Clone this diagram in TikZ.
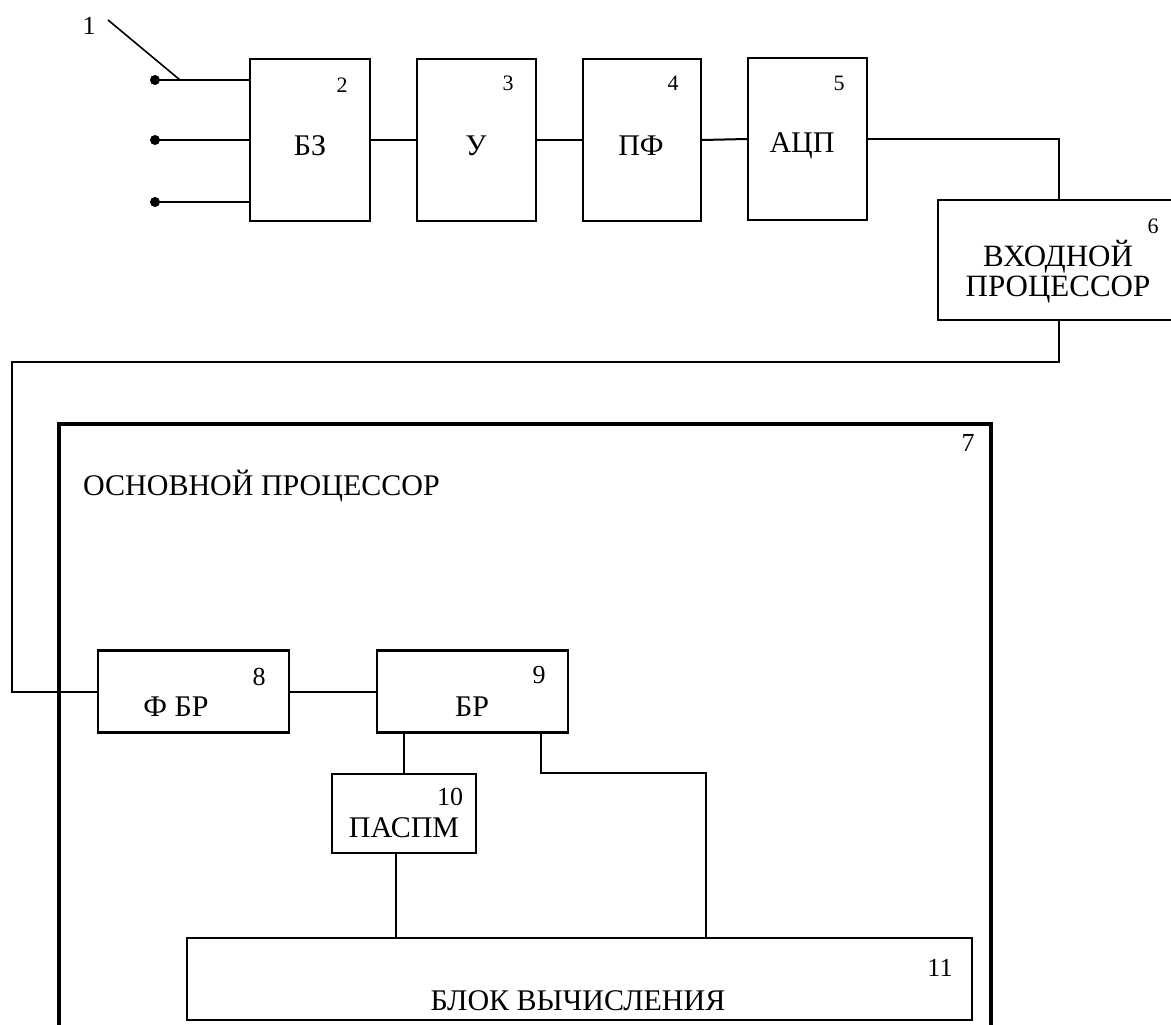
\documentclass[tikz,border=0pt]{standalone}
\usepackage{fontspec}
\setmainfont{Liberation Serif}
\begin{document}
\begin{tikzpicture}[x=1pt,y=-1pt,
  blk/.style={draw,line width=2.4pt,inner sep=0pt,fill=none},
  big/.style={draw,line width=3.6pt,inner sep=0pt},
  wire/.style={line width=2pt},
  lab/.style={inner sep=0pt,font=\fontsize{30}{32}\selectfont},
  num/.style={inner sep=0pt,font=\fontsize{22}{24}\selectfont},
  numb/.style={inner sep=0pt,font=\fontsize{26}{28}\selectfont},
  dotn/.style={circle,fill=black,inner sep=0pt,minimum size=10pt}]
\useasboundingbox (0,0) rectangle (1171,1025);

% top chain
\node[blk,minimum width=120pt,minimum height=162pt] (b2) at (310,140) {};
\node[blk,minimum width=119pt,minimum height=162pt] (b3) at (476.5,140) {};
\node[blk,minimum width=118pt,minimum height=162pt] (b4) at (642,140) {};
\node[blk,minimum width=119pt,minimum height=162pt] (b5) at (807.5,139) {};
\node[lab] (t2) at (310,146) {БЗ};
\node[lab] (t3) at (476,146) {У};
\node[lab] (t4) at (641,146) {ПФ};
\node[lab] (t5) at (802,146) {АЦП};
\node[num] (n2) at (342,85) {2};
\node[num] (n3) at (508,83) {3};
\node[num] (n4) at (673,83) {4};
\node[num] (n5) at (839,83) {5};

% inputs
\node[dotn] (i1) at (155,80) {};
\node[dotn] (i2) at (155,140) {};
\node[dotn] (i3) at (155,202) {};
\draw[wire] (i1.center) -- (i1 -| b2.west);
\draw[wire] (i2.center) -- (i2 -| b2.west);
\draw[wire] (i3.center) -- (i3 -| b2.west);
\node[numb] (n1) at (89,26) {1};
\coordinate (l1) at (108,20);
\coordinate (l2) at (180,80);
\draw[line width=1.6pt] (l1) -- (l2);

\draw[wire] (b2.east) -- (b3.west);
\draw[wire] (b3.east) -- (b4.west);
\draw[wire] (b4.east) -- (b5.west);

% input processor
\node[blk,minimum width=242pt,minimum height=120pt] (b6) at (1059,260) {};
\node[num] (n6) at (1153,226) {6};
\node[lab,align=center,font=\fontsize{31}{30}\selectfont] (t6) at (1058,272) {ВХОДНОЙ\\ПРОЦЕССОР};
\draw[wire] (b5.east) -| (b6.north);

% main processor
\node[big,minimum width=932pt,minimum height=620pt] (b7) at (525,734) {};
\node[numb] (n7) at (968,443) {7};
\node[lab,anchor=west,font=\fontsize{30}{32}\selectfont] (t7) at (83,486) {ОСНОВНОЙ ПРОЦЕССОР};

\node[blk,minimum width=191pt,minimum height=82pt] (b8) at (193.5,691.5) {};
\node[lab] (t8) at (176,707) {Ф БР};
\node[numb] (n8) at (259,677) {8};

\node[blk,minimum width=191pt,minimum height=82pt] (b9) at (472.5,691.5) {};
\node[lab] (t9) at (472,707) {БР};
\node[numb] (n9) at (539,675) {9};

\node[blk,minimum width=144pt,minimum height=79pt] (b10) at (404,813.5) {};
\node[lab] (t10) at (404,828) {ПАСПМ};
\node[numb] (n10) at (450,797) {10};

\node[blk,minimum width=785pt,minimum height=82pt] (b11) at (579.5,979) {};
\node[lab] (t11) at (578,1001) {БЛОК ВЫЧИСЛЕНИЯ};
\node[numb] (n11) at (940,968) {11};

% connections
\coordinate (c1) at (12,362);
\draw[wire] (b6.south) |- (c1) |- (b8.west);
\draw[wire] (b8.east) -- (b9.west);
\draw[wire] (b10.north |- b9.south) -- (b10.north);
\coordinate (j1) at (706,773);
\draw[wire] ([xshift=68.5pt]b9.south) |- (j1) -- (j1 |- b11.north);
\draw[wire] ([xshift=-8pt]b10.south) -- ([xshift=-8pt]b10.south |- b11.north);
\end{tikzpicture}
\end{document}
